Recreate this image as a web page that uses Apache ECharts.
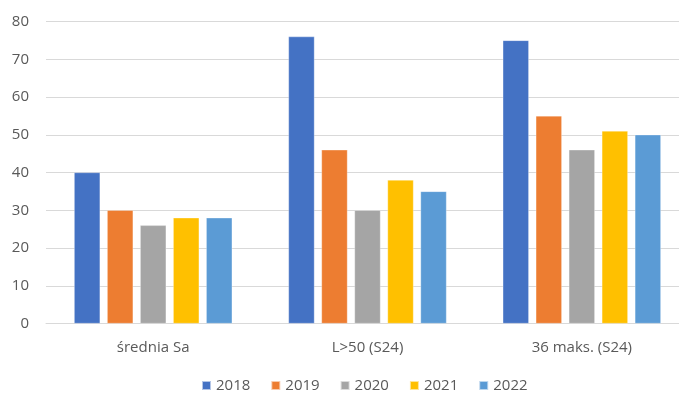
<!DOCTYPE html>
<html><head><meta charset="utf-8">
<script src="https://cdn.jsdelivr.net/npm/echarts@6/dist/echarts.min.js"></script>
<style>html,body{margin:0;padding:0;background:#fff}#c{width:679px;height:394px}</style>
</head><body><div id="c"></div>
<script>
const categories = ['średnia Sa', 'L>50 (S24)', '36 maks. (S24)'];
const years = ['2018', '2019', '2020', '2021', '2022'];
const v2018 = [40, 76, 75];
const v2019 = [30, 46, 55];
const v2020 = [26, 30, 46];
const v2021 = [28, 38, 51];
const v2022 = [28, 35, 50];
const yTicks = [0, 10, 20, 30, 40, 50, 60, 70, 80];

const seriesValues = [v2018, v2019, v2020, v2021, v2022];
const colors = ['#4472C4', '#ED7D31', '#A5A5A5', '#FFC000', '#5B9BD5'];
const font = '"Open Sans", sans-serif';

const chart = echarts.init(document.getElementById('c'), null, {renderer: 'canvas'});
chart.setOption({
  animation: false,
  textStyle: {fontFamily: font},
  grid: {left: 46, top: 21.5, width: 643, height: 302, outerBoundsMode: 'none', containLabel: false},
  legend: {
    top: 378, left: 201, padding: 0,
    itemWidth: 9, itemHeight: 9, itemGap: 20,
    icon: 'rect',
    textStyle: {color: '#595959', fontSize: 15, fontFamily: font},
    data: years
  },
  xAxis: {
    type: 'category', data: categories,
    axisLine: {lineStyle: {color: '#D9D9D9', width: 1}},
    axisTick: {show: false},
    axisLabel: {color: '#595959', fontSize: 15, margin: 17, fontFamily: font}
  },
  yAxis: {
    type: 'value', min: yTicks[0], max: yTicks[yTicks.length - 1], interval: 10,
    axisLine: {show: false}, axisTick: {show: false},
    splitLine: {lineStyle: {color: '#D9D9D9', width: 1}},
    axisLabel: {color: '#595959', fontSize: 15, margin: 17, fontFamily: font}
  },
  series: years.map((y, i) => ({
    name: y, type: 'bar', data: seriesValues[i],
    barWidth: 26, barGap: '27%',
    itemStyle: {color: colors[i], borderColor: 'rgba(255,255,255,0.6)', borderWidth: 0.5}
  }))
});
</script>
</body></html>
